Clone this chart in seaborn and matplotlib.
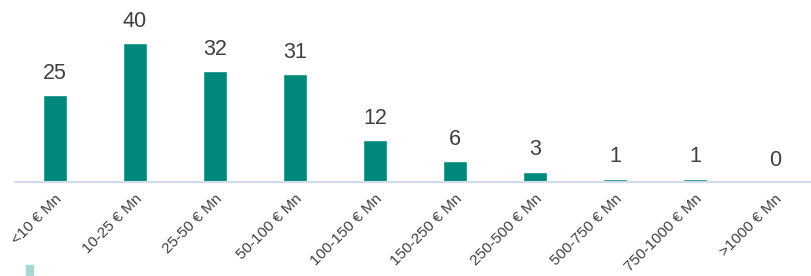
import numpy as np
import pandas as pd
import matplotlib
matplotlib.use("Agg")
import matplotlib.pyplot as plt
from matplotlib.patches import Patch
import seaborn as sns

categories = ["<10 € Mn", "10-25 € Mn", "25-50 € Mn", "50-100 € Mn", "100-150 € Mn",
              "150-250 € Mn", "250-500 € Mn", "500-750 € Mn", "750-1000 € Mn", ">1000 € Mn"]
counts = [25, 40, 32, 31, 12, 6, 3, 1, 1, 0]

bar_color = "#00897B"
text_color = "#404040"

sns.set_style("white")
plt.rcParams['font.family'] = ['Liberation Sans', 'DejaVu Sans']

df = pd.DataFrame({"range": categories, "count": counts})

fig = plt.figure(figsize=(8.11, 2.76), dpi=100)
ax = fig.add_axes([0.0185, 0.3406, 0.9815, 0.6594])
sns.barplot(data=df, x="range", y="count", color=bar_color, width=0.31,
            saturation=1, ax=ax)

ax.bar_label(ax.containers[0], labels=[str(c) for c in counts], padding=8,
             fontsize=15.5, color=text_color)

ax.set_xlim(-0.5, 9.45)
ax.set_ylim(0, 52.4)
ax.set_xlabel("")
ax.set_ylabel("")
ax.set_yticks([])
for s in ["top", "right", "left"]:
    ax.spines[s].set_visible(False)
ax.spines["bottom"].set_color("#D3DBEA")
ax.spines["bottom"].set_linewidth(1.5)
ax.tick_params(axis="x", length=0, pad=7)
plt.setp(ax.get_xticklabels(), rotation=45, ha="right", rotation_mode="anchor",
         fontsize=11, color=text_color)

# cut-off legend swatch at the bottom
fig.legend(handles=[Patch(color="#A8D8D0")], labels=[" "], loc="lower left",
           bbox_to_anchor=(0.018, -0.045), frameon=False, handlelength=0.6,
           handleheight=0.9, fontsize=9)

fig.savefig("out.png", dpi=100)
